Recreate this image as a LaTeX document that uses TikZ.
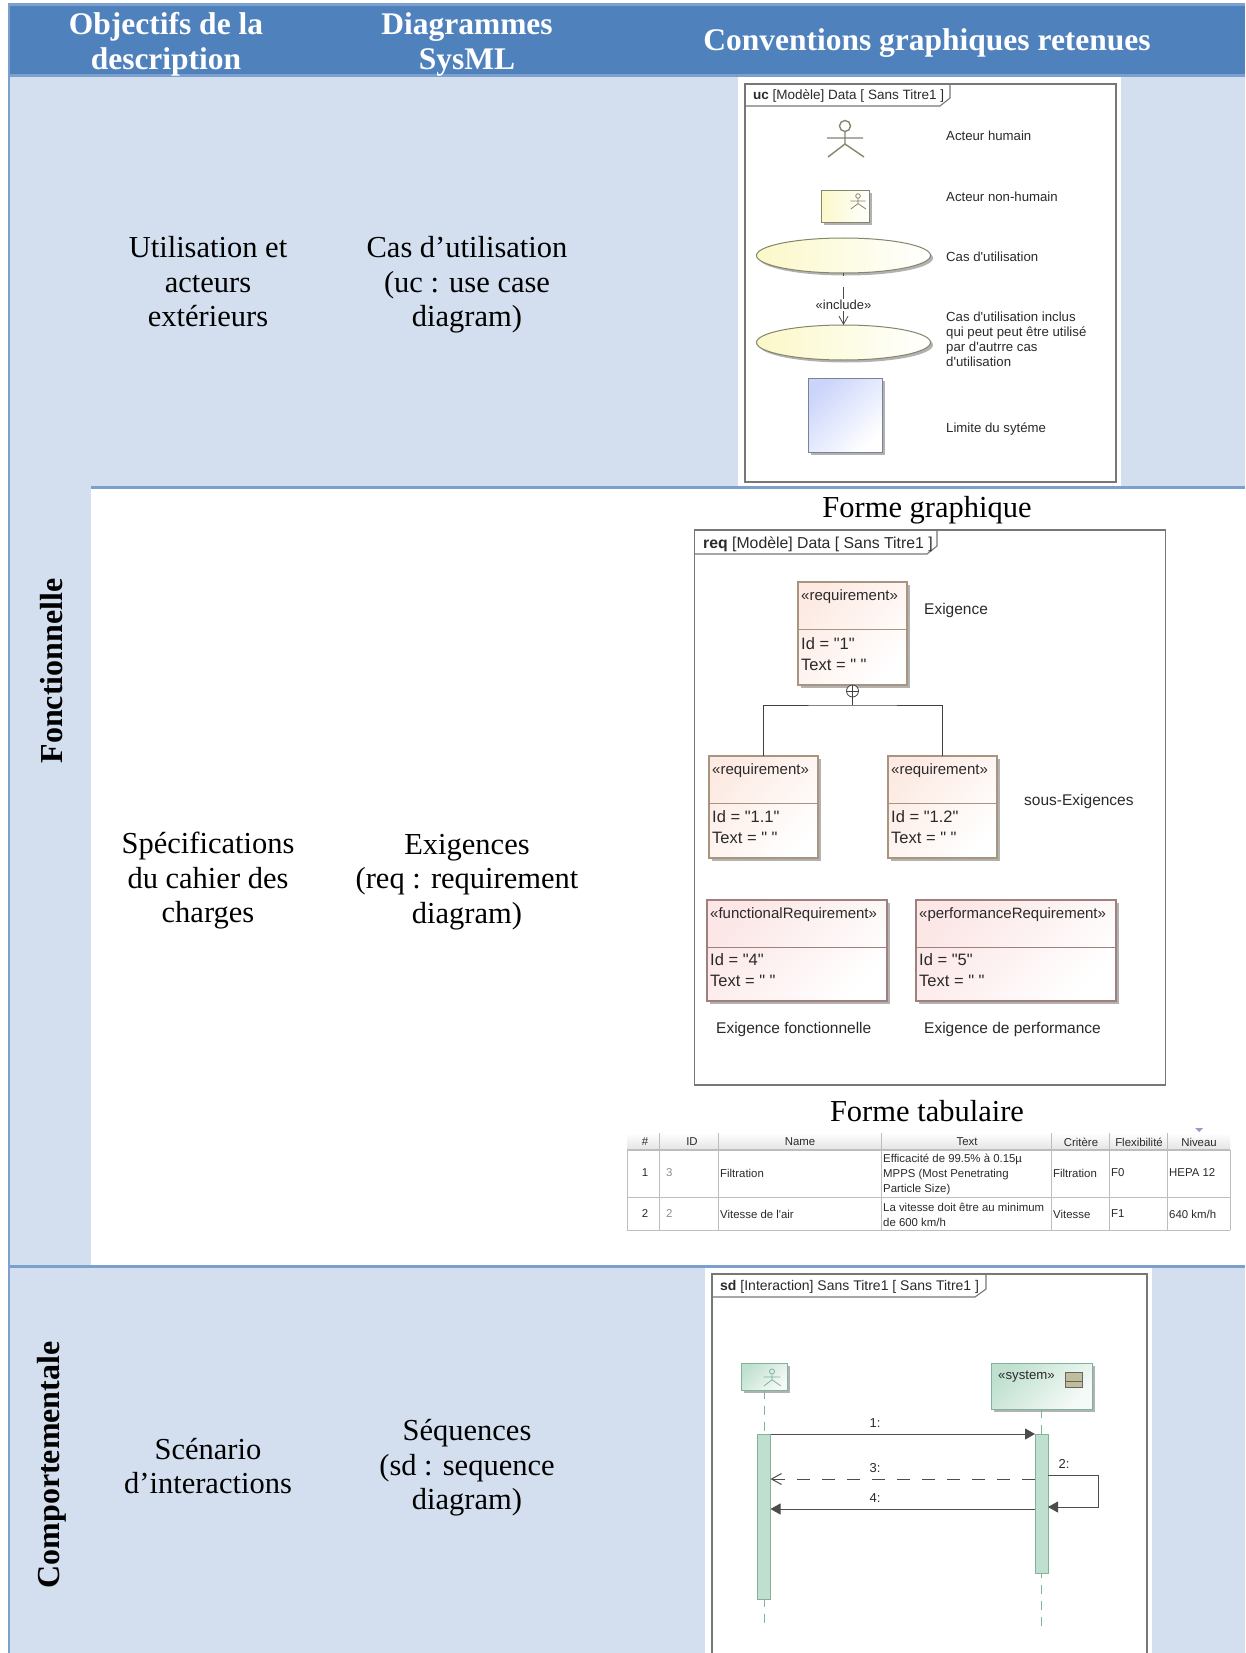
\documentclass[tikz,border=0pt]{standalone}
\usepackage{fontspec}
\setmainfont{Liberation Serif}
\newfontfamily\umlfont{Liberation Sans}
\usetikzlibrary{positioning,arrows.meta,shapes.geometric,shadows,calc}
\definecolor{headblue}{HTML}{4F81BD}
\definecolor{lineblue}{HTML}{7BA0CD}
\definecolor{rowblue}{HTML}{D3DFEE}
\definecolor{framegray}{HTML}{777777}
\definecolor{inktext}{HTML}{2A2A2A}
\definecolor{ucedge}{HTML}{85856C}
\definecolor{ucfill}{HTML}{FBF8C8}
\definecolor{limitedge}{HTML}{7A8296}
\definecolor{limitfill}{HTML}{CBD5FA}
\definecolor{reqedge}{HTML}{A8957F}
\definecolor{reqfill}{HTML}{FDEAE3}
\definecolor{funcedge}{HTML}{A07F7F}
\definecolor{funcfill}{HTML}{FCE6E6}
\definecolor{sdedge}{HTML}{7FB39A}
\definecolor{sdfill}{HTML}{BFE0CF}
\definecolor{tabgrid}{HTML}{BDBDBD}
\tikzstyle{headtext}=[align=center, text=white, inner sep=0pt, font=\fontsize{31.5}{35}\selectfont\bfseries]
\tikzstyle{celltext}=[align=center, text=black, inner sep=0pt, font=\fontsize{30.5}{34.5}\selectfont]
\tikzstyle{sidetext}=[rotate=90, text=black, inner sep=0pt, font=\fontsize{32}{34}\selectfont\bfseries]
\tikzstyle{framebox}=[rectangle, draw=framegray, line width=1.1pt, fill=white, inner sep=0pt, outer sep=0pt]
\tikzstyle{pline}=[-, line width=1pt, draw=black!75]
\tikzstyle{frameline}=[-, line width=1.1pt, draw=framegray]
\tikzstyle{umllabel}=[anchor=west, inner sep=0pt, text=inktext, align=left, font=\umlfont\fontsize{13.2}{15}\selectfont]
\tikzstyle{reqlabel}=[anchor=west, inner sep=0pt, text=inktext, align=left, font=\umlfont\fontsize{15.5}{21}\selectfont]
\tikzstyle{boxtext}=[inner xsep=3pt, inner ysep=7pt, text=inktext, align=left, font=\umlfont\fontsize{15}{21}\selectfont]
\tikzstyle{boxvalue}=[inner xsep=3pt, inner ysep=14.5pt, text=inktext, align=left, font=\umlfont\fontsize{16.5}{21}\selectfont]
\tikzstyle{sdlabel}=[inner sep=0pt, text=inktext, font=\umlfont\fontsize{13}{15}\selectfont]
\tikzstyle{tabtext}=[anchor=west, inner sep=0pt, text=inktext, align=left, font=\umlfont\fontsize{11.4}{15.4}\selectfont]
\tikzstyle{tabhead}=[inner sep=0pt, text=inktext, font=\umlfont\fontsize{11.4}{14}\selectfont]
\tikzstyle{softshadow}=[drop shadow={shadow xshift=2.5pt, shadow yshift=-2.5pt, fill=black, opacity=.3}]
\tikzstyle{ucbox}=[rectangle, draw=ucedge, line width=1pt, left color=ucfill, right color=white, softshadow, inner sep=0pt, outer sep=0pt]
\tikzstyle{ucell}=[ellipse, draw=ucedge, line width=1pt, left color=ucfill, right color=white, softshadow, minimum width=174, minimum height=35, inner sep=0pt, outer sep=0pt]
\tikzstyle{limitbox}=[rectangle, draw=limitedge, line width=1pt, left color=limitfill, right color=white, shading angle=45, softshadow, inner sep=0pt, outer sep=0pt]
\tikzstyle{reqbox}=[rectangle, draw=reqedge, line width=1.2pt, left color=reqfill, right color=white, shading angle=45, softshadow, inner sep=0pt, outer sep=0pt]
\tikzstyle{funcbox}=[rectangle, draw=funcedge, line width=1.2pt, left color=funcfill, right color=white, shading angle=45, softshadow, inner sep=0pt, outer sep=0pt]
\tikzstyle{reqrule}=[-, line width=1pt, draw=reqedge]
\tikzstyle{funcrule}=[-, line width=1pt, draw=funcedge]
\tikzstyle{sdbox}=[rectangle, draw=sdedge, line width=1pt, left color=sdfill, right color=white!85!sdfill, shading angle=45, softshadow, inner sep=0pt, outer sep=0pt]
\tikzstyle{activbox}=[rectangle, draw=sdedge, line width=1pt, fill=sdfill, minimum width=13, inner sep=0pt, outer sep=0pt]
\tikzstyle{lifeline}=[-, draw=sdedge, line width=1pt, dash pattern=on 9pt off 7pt]
\tikzstyle{msgline}=[line width=1pt, draw=black!70]
\tikzstyle{tabline}=[-, line width=1pt, draw=tabgrid]
\tikzset{stickman/.pic={
  \draw (0,0) circle (5.5);
  \draw (0,5.5) -- (0,18) (-18,12) -- (18,12) (-17,31) -- (0,18) -- (19,31);
}}

\begin{document}
\begin{tikzpicture}[x=1pt,y=-1pt]
\useasboundingbox (0,0) rectangle (1245,1653);

% bands of the table
\fill[headblue] (8,3) rectangle (1245,77);
\fill[rowblue] (8,77) rectangle (1245,1653);
\fill[white] (91,489) rectangle (1245,1265);
\fill[lineblue] (8,3) rectangle (1245,6);
\fill[lineblue] (8,74) rectangle (1245,77);
\fill[lineblue] (91,486) rectangle (1245,489);
\fill[lineblue] (8,1265) rectangle (1245,1268);
\fill[lineblue] (8,3) rectangle (10,1653);

\node (HEADA) [headtext] at (166,44) {Objectifs de la\\description};
\node (HEADB) [headtext] at (467,44) {Diagrammes\\SysML};
\node (HEADC) [headtext] at (927,43) {Conventions graphiques retenues};

\node (SIDEF) [sidetext] at (52,671) {Fonctionnelle};
\node (SIDEC) [sidetext] at (52,1465) {Comportementale};

\node (OBJUC) [celltext] at (208,282) {Utilisation et\\acteurs\\extérieurs};
\node (DIAUC) [celltext] at (467,285) {Cas d’utilisation\\(uc : use case\\diagram)};
\node (OBJREQ) [celltext] at (208,881) {Spécifications\\du cahier des\\charges};
\node (DIAREQ) [celltext] at (467,882) {Exigences\\(req : requirement\\diagram)};
\node (OBJSD) [celltext] at (208,1466) {Scénario\\d’interactions};
\node (DIASD) [celltext] at (467,1468) {Séquences\\(sd : sequence\\diagram)};

% uc panel
\fill[white] (738,77) rectangle (1121,486);
\node (UCFRAME) [framebox, minimum width=371, minimum height=398] at (930.5,283) {};
\coordinate (UCTAB) at (950,106);
\draw[frameline] (UCFRAME.west |- UCTAB) -- ($(UCTAB)+(-10,0)$) -- ($(UCTAB)+(0,-8)$) -- (UCTAB |- UCFRAME.north);
\node (UCTITLE) [umllabel, font=\umlfont\fontsize{13.5}{15}\selectfont] at (753,96) {\textbf{uc} [Modèle] Data [ Sans Titre1 ]};

\pic (UCACTOR) [color=ucedge, line width=1.4pt] at (845,126) {stickman};
\node (UCLABA) [umllabel] at (946,136) {Acteur humain};
\node (UCNONH) [ucbox, minimum width=48, minimum height=32] at (845,207) {};
\pic (UCSMALL) [color=ucedge, line width=.8pt, scale=.42] at (858,196) {stickman};
\node (UCLABB) [umllabel] at (946,197) {Acteur non-humain};
\node (UCCASE) [ucell] at (843.5,255.5) {};
\node (UCLABC) [umllabel] at (946,257) {Cas d'utilisation};
\node (UCINCL) [ucell, below=52pt of UCCASE] {};
\draw[-{Straight Barb[length=8pt,width=9pt]}, line width=.8pt, draw=black!70, dash pattern=on 3pt off 11pt on 40pt] (UCCASE.south) -- node[sdlabel, fill=white, inner ysep=1pt, pos=.62] (UCINC) {«include»} (UCINCL.north);
\node (UCLABD) [umllabel] at (946,339.5) {Cas d'utilisation inclus\\qui peut peut être utilisé\\par d'autrre cas\\d'utilisation};
\node (UCLIMIT) [limitbox, minimum width=74, minimum height=74] at (845,415) {};
\node (UCLABE) [umllabel] at (946,429) {Limite du sytéme};

% req panel
\node (FORMA) [celltext] at (927,510) {Forme graphique};
\node (REQFRAME) [framebox, minimum width=471, minimum height=555] at (930,807.5) {};
\coordinate (REQTAB) at (937,554);
\draw[frameline] (REQFRAME.west |- REQTAB) -- ($(REQTAB)+(-10,0)$) -- ($(REQTAB)+(0,-8)$) -- (REQTAB |- REQFRAME.north);
\node (REQTITLE) [reqlabel, font=\umlfont\fontsize{15.8}{21}\selectfont] at (703,544) {\textbf{req} [Modèle] Data [ Sans Titre1 ]};

\node (REQA) [reqbox, minimum width=109, minimum height=103] at (852.5,633.5) {};
\draw[reqrule] (REQA.north west) ++(0,47) -- ++(109,0);
\node (REQAT) [boxtext, below right] at (REQA.north west) {«requirement»};
\node (REQAV) [boxvalue, above right] at (REQA.south west) {Id = "1"\\Text = " "};
\node (REQLABA) [reqlabel, right=17pt of REQA.north east, yshift=-28pt] {Exigence};

\node (REQPLUS) [circle, draw=black!75, line width=.8pt, fill=white, minimum size=12, inner sep=0pt, outer sep=0pt, below=0pt of REQA] {};
\draw[pline, line width=.8pt] (REQPLUS.north) -- (REQPLUS.south) (REQPLUS.west) -- (REQPLUS.east);

\node (REQB) [reqbox, minimum width=109, minimum height=102, below left=71pt and -20pt of REQA] {};
\draw[reqrule] (REQB.north west) ++(0,47) -- ++(109,0);
\node (REQBT) [boxtext, below right] at (REQB.north west) {«requirement»};
\node (REQBV) [boxvalue, above right] at (REQB.south west) {Id = "1.1"\\Text = " "};

\node (REQC) [reqbox, minimum width=109, minimum height=102, below right=71pt and -19pt of REQA] {};
\draw[reqrule] (REQC.north west) ++(0,47) -- ++(109,0);
\node (REQCT) [boxtext, below right] at (REQC.north west) {«requirement»};
\node (REQCV) [boxvalue, above right] at (REQC.south west) {Id = "1.2"\\Text = " "};
\node (REQLABB) [reqlabel] at (1024,801) {sous-Exigences};

\coordinate (REQJOIN) at (852.5,705);
\draw[pline] (REQPLUS.south) -- (REQJOIN);
\draw[pline] (REQB.north) |- (REQJOIN) -| (REQC.north);

\node (FUNC) [funcbox, minimum width=180, minimum height=101] at (797,950.5) {};
\draw[funcrule] (FUNC.north west) ++(0,47) -- ++(180,0);
\node (FUNCT) [boxtext, below right] at (FUNC.north west) {«functionalRequirement»};
\node (FUNCV) [boxvalue, above right] at (FUNC.south west) {Id = "4"\\Text = " "};
\node (FUNCLAB) [reqlabel] at (716,1029) {Exigence fonctionnelle};

\node (PERF) [funcbox, minimum width=200, minimum height=101, right=29pt of FUNC] {};
\draw[funcrule] (PERF.north west) ++(0,47) -- ++(200,0);
\node (PERFT) [boxtext, below right] at (PERF.north west) {«performanceRequirement»};
\node (PERFV) [boxvalue, above right] at (PERF.south west) {Id = "5"\\Text = " "};
\node (PERFLAB) [reqlabel] at (924,1029) {Exigence de performance};

% tabular form
\node (FORMB) [celltext] at (927,1111) {Forme tabulaire};
\shade[top color=white, bottom color=black!10] (627,1133) rectangle (1230,1149);
\fill[blue!35!gray!60] (1195,1128) -- (1203,1128) -- (1199,1132) -- cycle;
\draw[tabline, line width=1.6pt] (627,1150) -- (1230,1150);
\draw[tabline] (627,1197) -- (1230,1197);
\draw[tabline] (627,1230) -- (1230,1230);
\draw[tabline] (627,1150) -- (627,1230);
\draw[tabline] (1230,1150) -- (1230,1230);
\draw[tabline] (659,1133) -- (659,1230);
\draw[tabline] (718,1133) -- (718,1230);
\draw[tabline] (881,1133) -- (881,1230);
\draw[tabline] (1051,1133) -- (1051,1230);
\draw[tabline] (1109,1133) -- (1109,1230);
\draw[tabline] (1167,1133) -- (1167,1230);
\node (THA) [tabhead] at (645,1142) {\#};
\node (THB) [tabhead] at (692,1142) {ID};
\node (THC) [tabhead] at (800,1142) {Name};
\node (THD) [tabhead] at (967,1142) {Text};
\node (THE) [tabhead] at (1081,1142) {Critère};
\node (THF) [tabhead] at (1139,1142) {Flexibilité};
\node (THG) [tabhead] at (1199,1142) {Niveau};
\node (TAA) [tabhead] at (645,1173) {1};
\node (TAB) [tabtext, text=black!45] at (666,1173) {3};
\node (TAC) [tabtext] at (720,1173) {Filtration};
\node (TAD) [tabtext] at (883,1174.5) {Efficacité de 99.5\% à 0.15µ\\MPPS (Most Penetrating\\Particle Size)};
\node (TAE) [tabtext] at (1053,1173) {Filtration};
\node (TAF) [tabtext] at (1111,1173) {F0};
\node (TAG) [tabtext] at (1169,1173) {HEPA 12};
\node (TBA) [tabhead] at (645,1214) {2};
\node (TBB) [tabtext, text=black!45] at (666,1214) {2};
\node (TBC) [tabtext] at (720,1214) {Vitesse de l'air};
\node (TBD) [tabtext] at (883,1215) {La vitesse doit être au minimum\\de 600 km/h};
\node (TBE) [tabtext] at (1053,1214) {Vitesse};
\node (TBF) [tabtext] at (1111,1214) {F1};
\node (TBG) [tabtext] at (1169,1214) {640 km/h};

% sd panel
\fill[white] (705,1268) rectangle (1152,1653);
\coordinate (SDTOPL) at (712,1274);
\coordinate (SDTOPR) at (1147,1274);
\coordinate (SDBOTL) at (712,1653);
\coordinate (SDBOTR) at (1147,1653);
\draw[frameline] (SDBOTL) -- (SDTOPL) -- (SDTOPR) -- (SDBOTR);
\coordinate (SDTAB) at (986,1297);
\draw[frameline] (SDTOPL |- SDTAB) -- ($(SDTAB)+(-11,0)$) -- ($(SDTAB)+(0,-8)$) -- (SDTAB |- SDTOPL);
\node (SDTITLE) [umllabel, font=\umlfont\fontsize{14}{15}\selectfont] at (720,1287) {\textbf{sd} [Interaction] Sans Titre1 [ Sans Titre1 ]};

\node (SDACTOR) [sdbox, minimum width=46, minimum height=27] at (764,1376.5) {};
\pic (SDSMALL) [color=sdedge, line width=.8pt, scale=.46] at (772,1371.5) {stickman};
\node (SDSYS) [sdbox, minimum width=101, minimum height=46] at (1041.5,1386) {};
\node (SDSYST) [umllabel] at (998,1377) {«system»};
\draw[draw=black!60, line width=.8pt, fill=ucedge!50!ucfill] (1065,1372) rectangle (1082,1387);
\draw[draw=black!60, line width=.8pt] (1065,1381) -- (1082,1381);

\coordinate (LIFEA) at (764,1629);
\coordinate (LIFEB) at (1041.5,1631);
\draw[lifeline] (SDACTOR.south) -- (LIFEA);
\draw[lifeline] (SDSYS.south) -- (LIFEB);
\node (ACTIVA) [activbox, minimum height=165] at (764,1516.5) {};
\node (ACTIVB) [activbox, minimum height=139] at (1041.5,1503.5) {};

\coordinate (MSGC) at (0,1479);
\coordinate (MSGD) at (0,1509);
\coordinate (MSGBA) at (1098,1475);
\coordinate (MSGBB) at (1098,1507);
\draw[msgline, -{Triangle[length=10pt,width=11pt]}] (ACTIVA.north east) -- (ACTIVB.north west);
\draw[msgline, dash pattern=on 13pt off 12pt, -{Straight Barb[length=10pt,width=11pt]}] (ACTIVB.west |- MSGC) -- (ACTIVA.east |- MSGC);
\draw[msgline, -{Triangle[length=10pt,width=11pt]}] (ACTIVB.west |- MSGD) -- (ACTIVA.east |- MSGD);
\draw[msgline, -{Triangle[length=10pt,width=11pt]}] (ACTIVB.east |- MSGBA) -- (MSGBA) -- (MSGBB) -- (ACTIVB.east |- MSGBB);
\node (MSGLABA) [sdlabel] at (875,1423) {1:};
\node (MSGLABB) [sdlabel] at (1064,1464) {2:};
\node (MSGLABC) [sdlabel] at (875,1468) {3:};
\node (MSGLABD) [sdlabel] at (875,1498) {4:};
\end{tikzpicture}
\end{document}
